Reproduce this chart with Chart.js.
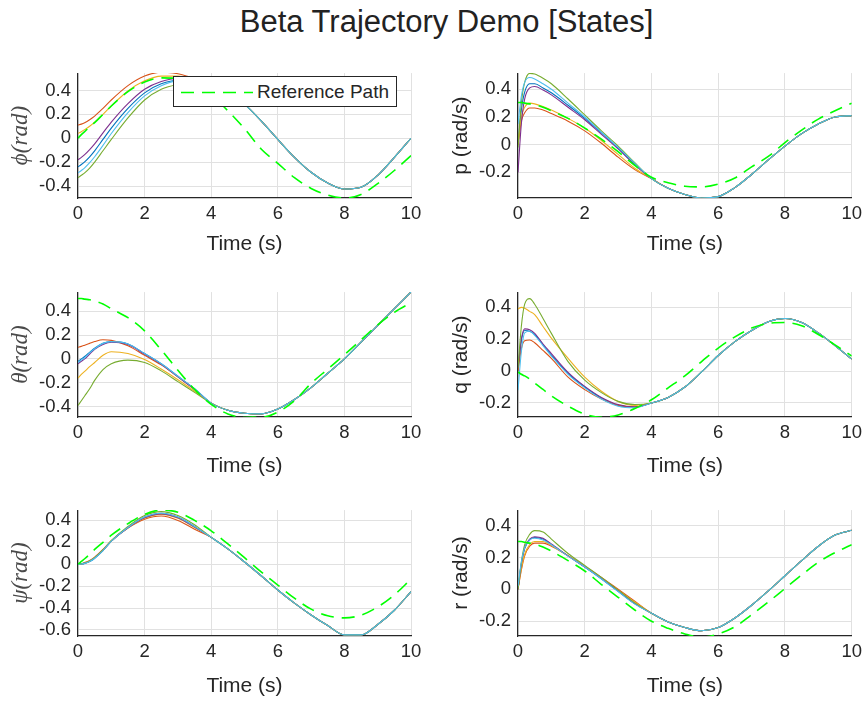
<!DOCTYPE html>
<html>
<head>
<meta charset="utf-8">
<script src="https://cdn.jsdelivr.net/npm/chart.js@4/dist/chart.umd.min.js"></script>
<style>
  html, body { margin: 0; padding: 0; background: #ffffff; }
  body { width: 867px; height: 702px; position: relative; overflow: hidden; font-family: "Liberation Sans", Arial, sans-serif; }
  #title { position: absolute; left: 13px; top: 5px; width: 867px; text-align: center; font-size: 31px; line-height: 33px; color: #222222; white-space: nowrap; }
  canvas { position: absolute; }
  #legend { position: absolute; left: 173px; top: 76px; width: 222px; height: 29px; border: 1px solid #262626; background: #ffffff; z-index: 5; }
  #legend svg { position: absolute; left: 6px; top: 0; }
  #legend span { position: absolute; left: 83px; top: 4px; font-size: 19px; line-height: 22px; color: #262626; white-space: nowrap; }
</style>
</head>
<body>
<div id="title">Beta Trajectory Demo [States]</div>
<div id="legend"><svg width="74" height="29"><line x1="1" y1="15.5" x2="73" y2="15.5" stroke="#00ff00" stroke-width="1.6" stroke-dasharray="13,8"/></svg><span id="legtext"></span></div>
<script>
// ---------------- data ----------------
const T_HEAD = [0, 0.1, 0.2, 0.35, 0.5, 0.75, 1, 1.5, 2, 2.5, 3, 3.5];
const T_TAIL = [4, 4.5, 5, 5.5, 6, 6.5, 7, 7.5, 8, 8.5, 9, 9.5, 10];
const X_TICKS = [0, 2, 4, 6, 8, 10];
const X_LABEL = 'Time (s)';
const REF_LABEL = 'Reference Path';
const TITLE = 'Beta Trajectory Demo [States]';

// phi (rad)
const PHI_BLUE      = [-0.24, -0.22, -0.197, -0.155, -0.105, -0.01, 0.085, 0.25, 0.38, 0.455, 0.485, 0.48];
const PHI_ORANGE    = [0.11, 0.118, 0.13, 0.155, 0.185, 0.25, 0.32, 0.44, 0.52, 0.552, 0.54, 0.50];
const PHI_YELLOW    = [0.04, 0.055, 0.072, 0.10, 0.135, 0.20, 0.27, 0.395, 0.48, 0.52, 0.52, 0.49];
const PHI_PURPLE    = [-0.18, -0.16, -0.137, -0.095, -0.047, 0.045, 0.135, 0.29, 0.41, 0.475, 0.50, 0.485];
const PHI_GREEN     = [-0.33, -0.31, -0.29, -0.25, -0.20, -0.105, -0.01, 0.17, 0.32, 0.41, 0.45, 0.465];
const PHI_LIGHTBLUE = [-0.29, -0.27, -0.248, -0.205, -0.155, -0.06, 0.04, 0.215, 0.355, 0.44, 0.48, 0.48];
const PHI_TAIL      = [0.455, 0.395, 0.285, 0.145, -0.01, -0.16, -0.285, -0.375, -0.425, -0.41, -0.31, -0.16, 0.0];
const PHI_REF       = [0.0, 0.03, 0.055, 0.095, 0.13, 0.2, 0.27, 0.39, 0.47, 0.505, 0.5, 0.45,
                       0.36, 0.23, 0.08, -0.09, -0.21, -0.33, -0.42, -0.475, -0.5, -0.47, -0.38, -0.27, -0.145];

// p (rad/s)
const P_BLUE      = [0.0, 0.25, 0.38, 0.44, 0.44, 0.41, 0.375, 0.285, 0.19, 0.085, -0.025, -0.14];
const P_ORANGE    = [0.0, 0.17, 0.23, 0.265, 0.265, 0.25, 0.225, 0.17, 0.10, 0.01, -0.09, -0.18];
const P_YELLOW    = [0.0, 0.2, 0.27, 0.30, 0.295, 0.275, 0.25, 0.19, 0.12, 0.03, -0.07, -0.17];
const P_PURPLE    = [-0.2, 0.15, 0.33, 0.41, 0.42, 0.395, 0.36, 0.27, 0.18, 0.075, -0.03, -0.145];
const P_GREEN     = [-0.02, 0.3, 0.45, 0.515, 0.51, 0.48, 0.44, 0.33, 0.215, 0.10, -0.01, -0.13];
const P_LIGHTBLUE = [0.15, 0.35, 0.45, 0.485, 0.475, 0.44, 0.40, 0.30, 0.20, 0.09, -0.02, -0.135];
const P_TAIL      = [-0.245, -0.315, -0.36, -0.385, -0.375, -0.31, -0.215, -0.11, -0.01, 0.08, 0.15, 0.20, 0.21];
const P_REF       = [0.305, 0.305, 0.30, 0.295, 0.29, 0.27, 0.245, 0.19, 0.12, 0.04, -0.05, -0.15,
                     -0.235, -0.275, -0.3, -0.305, -0.285, -0.24, -0.16, -0.085, 0.015, 0.105, 0.185, 0.245, 0.30];

// theta (rad)
const TH_BLUE      = [-0.02, 0.0, 0.02, 0.055, 0.09, 0.13, 0.145, 0.125, 0.045, -0.04, -0.145, -0.25];
const TH_ORANGE    = [0.098, 0.105, 0.115, 0.13, 0.145, 0.16, 0.155, 0.11, 0.03, -0.05, -0.15, -0.255];
const TH_YELLOW    = [-0.16, -0.13, -0.105, -0.065, -0.03, 0.03, 0.06, 0.045, -0.005, -0.085, -0.175, -0.27];
const TH_PURPLE    = [-0.04, -0.02, 0.0, 0.04, 0.08, 0.12, 0.14, 0.12, 0.04, -0.045, -0.15, -0.255];
const TH_GREEN     = [-0.39, -0.35, -0.31, -0.25, -0.18, -0.09, -0.04, -0.01, -0.03, -0.1, -0.19, -0.28];
const TH_LIGHTBLUE = [-0.03, -0.01, 0.01, 0.05, 0.085, 0.13, 0.145, 0.125, 0.045, -0.04, -0.145, -0.25];
const TH_TAIL      = [-0.37, -0.43, -0.455, -0.46, -0.42, -0.34, -0.24, -0.12, 0.0, 0.14, 0.28, 0.42, 0.56];
const TH_REF       = [0.505, 0.505, 0.50, 0.495, 0.485, 0.46, 0.42, 0.345, 0.235, 0.075, -0.095, -0.255,
                      -0.38, -0.46, -0.49, -0.49, -0.445, -0.35, -0.205, -0.085, 0.035, 0.16, 0.285, 0.39, 0.47];

// q (rad/s)
const Q_BLUE      = [0.0, 0.19, 0.255, 0.25, 0.23, 0.165, 0.10, -0.015, -0.1, -0.17, -0.215, -0.225];
const Q_ORANGE    = [0.0, 0.14, 0.19, 0.195, 0.178, 0.13, 0.08, -0.038, -0.116, -0.175, -0.214, -0.225];
const Q_YELLOW    = [0.39, 0.40, 0.395, 0.375, 0.355, 0.28, 0.207, 0.08, -0.038, -0.126, -0.19, -0.215];
const Q_PURPLE    = [0.02, 0.2, 0.265, 0.26, 0.237, 0.17, 0.11, -0.008, -0.096, -0.165, -0.21, -0.225];
const Q_GREEN     = [0.02, 0.28, 0.42, 0.455, 0.42, 0.33, 0.237, 0.06, -0.057, -0.135, -0.19, -0.21];
const Q_LIGHTBLUE = [-0.12, 0.12, 0.24, 0.25, 0.225, 0.16, 0.095, -0.02, -0.105, -0.175, -0.22, -0.23];
const Q_TAIL      = [-0.2, -0.165, -0.1, -0.005, 0.098, 0.185, 0.255, 0.31, 0.33, 0.305, 0.24, 0.16, 0.075];
const Q_REF       = [-0.005, -0.02, -0.03, -0.05, -0.075, -0.115, -0.155, -0.22, -0.27, -0.29, -0.275, -0.235,
                     -0.18, -0.105, -0.03, 0.06, 0.145, 0.215, 0.27, 0.3, 0.305, 0.285, 0.23, 0.165, 0.095];

// psi (rad)
const PSI_BLUE      = [0.0, 0.002, 0.008, 0.025, 0.055, 0.125, 0.21, 0.335, 0.43, 0.465, 0.43, 0.345];
const PSI_ORANGE    = [0.0, 0.005, 0.015, 0.035, 0.065, 0.135, 0.215, 0.33, 0.41, 0.44, 0.40, 0.32];
const PSI_YELLOW    = [0.0, 0.004, 0.012, 0.03, 0.06, 0.13, 0.212, 0.332, 0.42, 0.455, 0.42, 0.335];
const PSI_PURPLE    = [0.0, 0.003, 0.01, 0.028, 0.058, 0.128, 0.21, 0.333, 0.425, 0.46, 0.425, 0.34];
const PSI_GREEN     = [0.0, 0.003, 0.01, 0.03, 0.06, 0.13, 0.215, 0.345, 0.445, 0.48, 0.445, 0.36];
const PSI_LIGHTBLUE = [0.0, 0.002, 0.008, 0.025, 0.055, 0.125, 0.21, 0.335, 0.43, 0.465, 0.43, 0.345];
const PSI_TAIL      = [0.245, 0.14, 0.02, -0.105, -0.235, -0.355, -0.463, -0.56, -0.645, -0.645, -0.55, -0.42, -0.25];
const PSI_REF       = [0.0, 0.025, 0.05, 0.09, 0.135, 0.2, 0.265, 0.37, 0.455, 0.495, 0.475, 0.4,
                       0.305, 0.185, 0.06, -0.07, -0.19, -0.31, -0.41, -0.47, -0.49, -0.465, -0.39, -0.28, -0.135];

// r (rad/s)
const R_BLUE      = [0.0, 0.155, 0.255, 0.31, 0.325, 0.315, 0.28, 0.21, 0.14, 0.066, -0.012, -0.09];
const R_ORANGE    = [0.0, 0.12, 0.21, 0.27, 0.29, 0.29, 0.27, 0.21, 0.145, 0.075, 0.0, -0.075];
const R_YELLOW    = [0.0, 0.13, 0.22, 0.28, 0.30, 0.30, 0.275, 0.21, 0.143, 0.07, -0.005, -0.08];
const R_PURPLE    = [0.0, 0.16, 0.26, 0.315, 0.33, 0.32, 0.285, 0.21, 0.14, 0.068, -0.01, -0.09];
const R_GREEN     = [0.0, 0.17, 0.28, 0.345, 0.368, 0.36, 0.315, 0.225, 0.15, 0.075, -0.005, -0.085];
const R_LIGHTBLUE = [0.02, 0.17, 0.26, 0.31, 0.32, 0.31, 0.28, 0.208, 0.14, 0.065, -0.014, -0.093];
const R_TAIL      = [-0.15, -0.205, -0.24, -0.26, -0.24, -0.18, -0.1, -0.01, 0.085, 0.18, 0.27, 0.34, 0.37];
const R_REF       = [0.30, 0.30, 0.295, 0.29, 0.285, 0.265, 0.24, 0.18, 0.115, 0.03, -0.05, -0.13,
                     -0.2, -0.245, -0.28, -0.3, -0.28, -0.235, -0.16, -0.08, 0.005, 0.09, 0.17, 0.23, 0.28];

// y axis ranges / ticks
const PHI_Y = [-0.5, 0.545],  PHI_TICKS = [-0.4, -0.2, 0, 0.2, 0.4];
const P_Y   = [-0.385, 0.517], P_TICKS  = [-0.2, 0, 0.2, 0.4];
const TH_Y  = [-0.486, 0.559], TH_TICKS = [-0.4, -0.2, 0, 0.2, 0.4];
const Q_Y   = [-0.288, 0.496], Q_TICKS  = [-0.2, 0, 0.2, 0.4];
const PSI_Y = [-0.655, 0.494], PSI_TICKS = [-0.6, -0.4, -0.2, 0, 0.2, 0.4];
const R_Y   = [-0.293, 0.497], R_TICKS  = [-0.2, 0, 0.2, 0.4];

// ---------------- styling ----------------
const RUN_COLORS = ['#4DBEEE', '#77AC30', '#7E2F8E', '#EDB120', '#D95319', '#0072BD'];
const REF_COLOR = '#00FF00';
const GRID = '#e1e1e1', AXIS = '#262626', TICK = '#262626';
const SANS = '"Liberation Sans", Arial, Helvetica, sans-serif';
const SERIF = '"Liberation Serif", "DejaVu Serif", "Times New Roman", serif';

const COLS = {
  L: { x: 0,   w: 430, yAxisW: 78, padR: 19, titlePad: 7 },
  R: { x: 430, w: 437, yAxisW: 88, padR: 14, titlePad: 19 }
};
const ROWS = [
  { top: 65,  bottom: 198, xAxisH: 59 },
  { top: 284, bottom: 417, xAxisH: 62 },
  { top: 502, bottom: 636, xAxisH: 63 }
];

const PANELS = [
  { col: 'L', row: 0, label: 'ϕ(rad)', latex: true,  runs: [PHI_LIGHTBLUE, PHI_GREEN, PHI_PURPLE, PHI_YELLOW, PHI_ORANGE, PHI_BLUE], tail: PHI_TAIL, ref: PHI_REF, y: PHI_Y, ticks: PHI_TICKS },
  { col: 'R', row: 0, label: 'p (rad/s)', latex: false, runs: [P_LIGHTBLUE, P_GREEN, P_PURPLE, P_YELLOW, P_ORANGE, P_BLUE], tail: P_TAIL, ref: P_REF, y: P_Y, ticks: P_TICKS },
  { col: 'L', row: 1, label: 'θ(rad)', latex: true,  runs: [TH_LIGHTBLUE, TH_GREEN, TH_PURPLE, TH_YELLOW, TH_ORANGE, TH_BLUE], tail: TH_TAIL, ref: TH_REF, y: TH_Y, ticks: TH_TICKS },
  { col: 'R', row: 1, label: 'q (rad/s)', latex: false, runs: [Q_LIGHTBLUE, Q_GREEN, Q_PURPLE, Q_YELLOW, Q_ORANGE, Q_BLUE], tail: Q_TAIL, ref: Q_REF, y: Q_Y, ticks: Q_TICKS },
  { col: 'L', row: 2, label: 'ψ(rad)', latex: true,  runs: [PSI_LIGHTBLUE, PSI_GREEN, PSI_PURPLE, PSI_YELLOW, PSI_ORANGE, PSI_BLUE], tail: PSI_TAIL, ref: PSI_REF, y: PSI_Y, ticks: PSI_TICKS },
  { col: 'R', row: 2, label: 'r (rad/s)', latex: false, runs: [R_LIGHTBLUE, R_GREEN, R_PURPLE, R_YELLOW, R_ORANGE, R_BLUE], tail: R_TAIL, ref: R_REF, y: R_Y, ticks: R_TICKS }
];

document.getElementById('title').textContent = TITLE;
document.getElementById('legtext').textContent = REF_LABEL;

const T_ALL = T_HEAD.concat(T_TAIL);
function pts(values) { return T_ALL.map((t, i) => ({ x: t, y: values[i] })); }
function fmt(v) { return Math.abs(v) < 1e-9 ? '0' : v.toFixed(1); }

PANELS.forEach((p) => {
  const col = COLS[p.col], row = ROWS[p.row];
  const padTop = 10;
  const cv = document.createElement('canvas');
  cv.width = col.w;
  cv.height = padTop + (row.bottom - row.top) + row.xAxisH;
  cv.style.left = col.x + 'px';
  cv.style.top = (row.top - padTop) + 'px';
  document.body.appendChild(cv);

  const datasets = [{
    label: REF_LABEL, data: pts(p.ref), borderColor: REF_COLOR, borderWidth: 1.6,
    borderDash: [13, 8], pointRadius: 0, cubicInterpolationMode: 'monotone', fill: false
  }];
  p.runs.forEach((head, i) => {
    datasets.push({
      label: 'Run ' + (6 - i), data: pts(head.concat(p.tail)), borderColor: RUN_COLORS[i],
      borderWidth: 1.1, pointRadius: 0, cubicInterpolationMode: 'monotone', fill: false
    });
  });

  new Chart(cv, {
    type: 'line',
    data: { datasets },
    options: {
      responsive: false, animation: false, devicePixelRatio: 1, events: [],
      layout: { padding: { top: padTop, right: col.padR, bottom: 0, left: 0 } },
      plugins: { legend: { display: false }, tooltip: { enabled: false }, title: { display: false } },
      scales: {
        x: {
          type: 'linear', min: 0, max: 10,
          afterBuildTicks: s => { s.ticks = X_TICKS.map(v => ({ value: v })); },
          afterFit: s => { s.height = row.xAxisH; },
          grid: { color: GRID, lineWidth: 1, drawTicks: false },
          border: { display: true, color: AXIS, width: 1.2 },
          ticks: { color: TICK, font: { family: SANS, size: 18.5 }, padding: 5, maxRotation: 0, autoSkip: false, callback: v => String(v) },
          title: { display: true, text: X_LABEL, color: TICK, font: { family: SANS, size: 21 }, padding: { top: 0, bottom: 0 } }
        },
        y: {
          type: 'linear', min: p.y[0], max: p.y[1],
          afterBuildTicks: s => { s.ticks = p.ticks.map(v => ({ value: v })); },
          afterFit: s => { s.width = col.yAxisW; },
          grid: { color: GRID, lineWidth: 1, drawTicks: false },
          border: { display: true, color: AXIS, width: 1.2 },
          ticks: { color: TICK, font: { family: SANS, size: 18.5 }, padding: 7, autoSkip: false, callback: v => fmt(v) },
          title: {
            display: true, text: p.label, color: p.latex ? '#4a4a4a' : TICK,
            font: p.latex ? { family: SERIF, size: 23, style: 'italic' } : { family: SANS, size: 21 },
            padding: { top: col.titlePad, bottom: 0 }
          }
        }
      }
    }
  });
});
</script>
</body>
</html>
